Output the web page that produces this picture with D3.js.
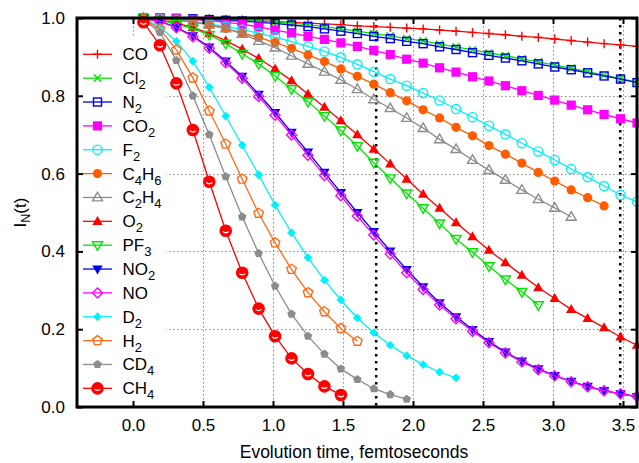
<!DOCTYPE html>
<html>
<head>
<meta charset="utf-8">
<script src="https://cdn.jsdelivr.net/npm/d3@7"></script>
<style>
  body { margin: 0; background: #fff; }
  svg { font-family: "Liberation Sans", Arial, Helvetica, sans-serif; }
</style>
</head>
<body>
<svg id="chart" width="639" height="463"></svg>
<script>
// sample times (fs) of the points
const times = [0.075, 0.1925, 0.31, 0.4275, 0.545, 0.6625, 0.78, 0.8975, 1.015, 1.1325,
  1.25, 1.3675, 1.485, 1.6025, 1.72, 1.8375, 1.955, 2.0725, 2.19, 2.3075,
  2.425, 2.5425, 2.66, 2.7775, 2.895, 3.0125, 3.13, 3.2475, 3.365, 3.4825, 3.6];

const CO   = [1.0, 1.0, 1.0, 0.999, 0.998, 0.997, 0.995, 0.993, 0.991, 0.989, 0.987, 0.985, 0.983, 0.980, 0.978, 0.976, 0.974, 0.972, 0.969, 0.966, 0.963, 0.960, 0.957, 0.953, 0.950, 0.946, 0.942, 0.938, 0.934, 0.931, 0.927];
const Cl2  = [1.0, 1.0, 0.999, 0.998, 0.997, 0.996, 0.995, 0.993, 0.990, 0.987, 0.983, 0.978, 0.972, 0.966, 0.960, 0.954, 0.947, 0.941, 0.933, 0.926, 0.918, 0.910, 0.903, 0.895, 0.887, 0.879, 0.871, 0.862, 0.853, 0.844, 0.835];
const N2   = [1.0, 1.0, 0.999, 0.998, 0.996, 0.994, 0.992, 0.989, 0.986, 0.982, 0.978, 0.972, 0.966, 0.960, 0.953, 0.947, 0.940, 0.934, 0.926, 0.919, 0.911, 0.904, 0.897, 0.890, 0.882, 0.874, 0.867, 0.859, 0.851, 0.843, 0.834];
const CO2  = [1.0, 0.999, 0.998, 0.996, 0.993, 0.989, 0.984, 0.977, 0.969, 0.961, 0.953, 0.945, 0.936, 0.927, 0.917, 0.906, 0.894, 0.884, 0.872, 0.861, 0.849, 0.838, 0.826, 0.813, 0.801, 0.789, 0.776, 0.764, 0.752, 0.741, 0.730];
const F2   = [1.0, 0.998, 0.995, 0.990, 0.985, 0.978, 0.970, 0.961, 0.951, 0.939, 0.927, 0.914, 0.899, 0.881, 0.862, 0.843, 0.826, 0.807, 0.788, 0.766, 0.745, 0.723, 0.701, 0.678, 0.657, 0.635, 0.612, 0.591, 0.568, 0.545, 0.528];
const C4H6 = [1.0, 0.997, 0.994, 0.990, 0.982, 0.973, 0.961, 0.950, 0.937, 0.922, 0.905, 0.888, 0.869, 0.850, 0.830, 0.808, 0.787, 0.764, 0.743, 0.719, 0.697, 0.672, 0.650, 0.627, 0.603, 0.581, 0.558, 0.538, 0.517];
const C2H4 = [1.0, 0.998, 0.995, 0.990, 0.983, 0.973, 0.959, 0.941, 0.924, 0.903, 0.882, 0.862, 0.841, 0.817, 0.791, 0.768, 0.743, 0.717, 0.688, 0.663, 0.635, 0.609, 0.584, 0.558, 0.534, 0.512, 0.489];
const O2   = [1.0, 0.995, 0.987, 0.976, 0.960, 0.942, 0.920, 0.896, 0.869, 0.839, 0.804, 0.771, 0.736, 0.700, 0.663, 0.625, 0.586, 0.547, 0.511, 0.474, 0.438, 0.403, 0.371, 0.339, 0.307, 0.279, 0.251, 0.228, 0.204, 0.180, 0.159];
const PF3  = [1.0, 0.994, 0.985, 0.972, 0.957, 0.934, 0.908, 0.882, 0.851, 0.817, 0.785, 0.748, 0.711, 0.671, 0.628, 0.588, 0.549, 0.511, 0.472, 0.432, 0.398, 0.362, 0.328, 0.296, 0.262];
const NO2  = [0.999, 0.991, 0.976, 0.954, 0.925, 0.889, 0.850, 0.804, 0.757, 0.706, 0.655, 0.603, 0.551, 0.500, 0.451, 0.401, 0.353, 0.309, 0.268, 0.232, 0.199, 0.168, 0.141, 0.118, 0.098, 0.081, 0.066, 0.053, 0.042, 0.034, 0.027];
const NO   = [0.999, 0.991, 0.975, 0.952, 0.922, 0.885, 0.845, 0.798, 0.750, 0.699, 0.647, 0.595, 0.543, 0.491, 0.442, 0.393, 0.345, 0.302, 0.262, 0.227, 0.195, 0.165, 0.139, 0.116, 0.096, 0.080, 0.065, 0.052, 0.042, 0.034, 0.027];
const D2   = [0.998, 0.977, 0.940, 0.889, 0.822, 0.748, 0.673, 0.597, 0.519, 0.448, 0.384, 0.326, 0.275, 0.229, 0.191, 0.159, 0.132, 0.109, 0.090, 0.075];
const H2   = [0.997, 0.972, 0.918, 0.846, 0.761, 0.676, 0.586, 0.498, 0.422, 0.354, 0.294, 0.245, 0.202, 0.169];
const CD4  = [0.996, 0.963, 0.891, 0.800, 0.700, 0.592, 0.489, 0.395, 0.311, 0.239, 0.182, 0.136, 0.098, 0.071, 0.047, 0.032, 0.020];
const CH4  = [0.989, 0.930, 0.832, 0.712, 0.579, 0.453, 0.345, 0.253, 0.182, 0.125, 0.085, 0.053, 0.031];

const xTicks = [0.0, 0.5, 1.0, 1.5, 2.0, 2.5, 3.0, 3.5];
const yTicks = [0.0, 0.2, 0.4, 0.6, 0.8, 1.0];
const markLines = [1.737, 3.48];

// legend order = plot order
const series = [
  { label: "CO",     values: CO,   color: "#ff0000", mark: "plus" },
  { label: "Cl_2",   values: Cl2,  color: "#00e600", mark: "cross" },
  { label: "N_2",    values: N2,   color: "#0000f0", mark: "sqOpen" },
  { label: "CO_2",   values: CO2,  color: "#ff00ff", mark: "sqFill" },
  { label: "F_2",    values: F2,   color: "#00f0ff", mark: "circOpen" },
  { label: "C_4H_6", values: C4H6, color: "#ff5c00", mark: "circFill" },
  { label: "C_2H_4", values: C2H4, color: "#8c8c8c", mark: "triOpen" },
  { label: "O_2",    values: O2,   color: "#ff0000", mark: "triFill" },
  { label: "PF_3",   values: PF3,  color: "#00e600", mark: "tdOpen" },
  { label: "NO_2",   values: NO2,  color: "#0000f0", mark: "tdFill" },
  { label: "NO",     values: NO,   color: "#ff00ff", mark: "diaOpen" },
  { label: "D_2",    values: D2,   color: "#00f0ff", mark: "diaFill" },
  { label: "H_2",    values: H2,   color: "#ff6a1a", mark: "pentOpen" },
  { label: "CD_4",   values: CD4,  color: "#8c8c8c", mark: "pentFill" },
  { label: "CH_4",   values: CH4,  color: "#ff0000", mark: "ch4" },
];

const width = 639, height = 463,
  margin = { top: 18, right: 2, bottom: 56, left: 77 };

const svg = d3.select("#chart");

// SCALES
const xScale = d3.scaleLinear().domain([-0.4, 3.6]).range([margin.left, width - margin.right]);
const yScale = d3.scaleLinear().domain([0, 1]).range([height - margin.bottom, margin.top]);
const x0 = xScale.range()[0], x1 = xScale.range()[1];
const y0 = yScale.range()[0], y1 = yScale.range()[1];

svg.append("clipPath").attr("id", "plot-clip")
  .append("rect").attr("x", x0).attr("y", y1).attr("width", x1 - x0).attr("height", y0 - y1);

// grid
const grid = svg.append("g").attr("stroke", "#8a8a8a").attr("stroke-width", 1).attr("stroke-dasharray", "1.5,2.5");
grid.selectAll(".gx").data(xTicks).join("line")
  .attr("x1", (d) => Math.round(xScale(d)) + 0.5).attr("x2", (d) => Math.round(xScale(d)) + 0.5)
  .attr("y1", y1).attr("y2", y0);
grid.selectAll(".gy").data(yTicks.filter((d) => d > 0 && d < 1)).join("line")
  .attr("y1", (d) => Math.round(yScale(d)) + 0.5).attr("y2", (d) => Math.round(yScale(d)) + 0.5)
  .attr("x1", x0).attr("x2", x1);

// thick dotted markers
svg.append("g").selectAll("line").data(markLines).join("line")
  .attr("x1", (d) => xScale(d)).attr("x2", (d) => xScale(d))
  .attr("y1", y1).attr("y2", y0)
  .attr("stroke", "#000").attr("stroke-width", 2.5).attr("stroke-dasharray", "2.5,4.5");

// opaque legend box
svg.append("rect").attr("x", x0 + 1).attr("y", 37).attr("width", 166 - x0 - 1).attr("height", 405 - 37)
  .attr("fill", "#fff");

function pentagon(r) {
  const p = d3.range(5).map((i) => {
    const a = -Math.PI / 2 + i * 2 * Math.PI / 5;
    return [r * Math.cos(a), r * Math.sin(a)];
  });
  return "M" + p.map((q) => q.join(",")).join("L") + "Z";
}

function drawMark(g, type, color) {
  const open = (sel) => sel.attr("fill", "none").attr("stroke", color).attr("stroke-width", 1.4);
  const fill = (sel) => sel.attr("fill", color).attr("stroke", "none");
  switch (type) {
    case "plus": open(g.append("path").attr("d", "M-4.5,0H4.5M0,-4.5V4.5")); break;
    case "cross": open(g.append("path").attr("d", "M-3.6,-3.6L3.6,3.6M-3.6,3.6L3.6,-3.6")); break;
    case "sqOpen": open(g.append("rect").attr("x", -4).attr("y", -4).attr("width", 8).attr("height", 8)); break;
    case "sqFill": fill(g.append("rect").attr("x", -4.6).attr("y", -4.6).attr("width", 9.2).attr("height", 9.2)); break;
    case "circOpen": open(g.append("circle").attr("r", 4.6)); break;
    case "circFill": fill(g.append("circle").attr("r", 4.6)); break;
    case "triOpen": open(g.append("path").attr("d", "M0,-5.2L5,3.4L-5,3.4Z")); break;
    case "triFill": fill(g.append("path").attr("d", "M0,-5.4L5.2,3.6L-5.2,3.6Z")); break;
    case "tdOpen": open(g.append("path").attr("d", "M0,5.2L5,-3.4L-5,-3.4Z")); break;
    case "tdFill": fill(g.append("path").attr("d", "M0,5.4L5.2,-3.6L-5.2,-3.6Z")); break;
    case "diaOpen": open(g.append("path").attr("d", "M0,-5L5,0L0,5L-5,0Z")); break;
    case "diaFill": fill(g.append("path").attr("d", "M0,-4.4L4.4,0L0,4.4L-4.4,0Z")); break;
    case "pentOpen": open(g.append("path").attr("d", pentagon(5))); break;
    case "pentFill": fill(g.append("path").attr("d", pentagon(4.5))); break;
    case "ch4":
      fill(g.append("circle").attr("r", 6.3));
      g.append("path").attr("d", "M-3,0.8Q0,3.2 3,0.8").attr("fill", "none")
        .attr("stroke", "#fff").attr("stroke-width", 1.2);
      break;
  }
}

// DATA
const line = d3.line().x((d) => xScale(d[0])).y((d) => yScale(d[1]));
series.forEach((s) => {
  const pts = s.values.map((v, i) => [times[i], v]);
  const g = svg.append("g");
  g.append("path").datum(pts).attr("d", line)
    .attr("fill", "none").attr("stroke", s.color).attr("stroke-width", 1.3)
    .attr("clip-path", "url(#plot-clip)");
  g.selectAll(".pt").data(pts).join("g").attr("class", "pt")
    .attr("transform", (d) => `translate(${xScale(d[0])},${yScale(d[1])})`)
    .each(function () { drawMark(d3.select(this), s.mark, s.color); });
});

// frame
svg.append("rect").attr("x", x0).attr("y", y1).attr("width", x1 - x0).attr("height", y0 - y1)
  .attr("fill", "none").attr("stroke", "#000").attr("stroke-width", 3);

// AXES
function styleAxis(g) {
  g.select(".domain").remove();
  g.selectAll(".tick line").attr("stroke", "#000").attr("stroke-width", 2);
  g.selectAll(".tick text").attr("fill", "#000").style("font-size", "17px")
    .style("font-family", '"Liberation Sans", Arial, Helvetica, sans-serif');
}
svg.append("g").attr("transform", `translate(0,${y0})`)
  .call(d3.axisBottom(xScale).tickValues(xTicks).tickSize(-6).tickPadding(12).tickFormat(d3.format(".1f")))
  .call(styleAxis);
svg.append("g").attr("transform", `translate(0,${y1})`)
  .call(d3.axisTop(xScale).tickValues(xTicks).tickSize(-6).tickFormat(""))
  .call(styleAxis);
svg.append("g").attr("transform", `translate(${x0},0)`)
  .call(d3.axisLeft(yScale).tickValues(yTicks).tickSize(-6).tickPadding(12).tickFormat(d3.format(".1f")))
  .call(styleAxis);
svg.append("g").attr("transform", `translate(${x1},0)`)
  .call(d3.axisRight(yScale).tickValues(yTicks).tickSize(-6).tickFormat(""))
  .call(styleAxis);

// text with "_" subscripts
function richText(t, label, subSize, subShift) {
  const parts = label.split(/(_.)/).filter((p) => p.length);
  let shifted = false;
  parts.forEach((p) => {
    if (p[0] === "_") {
      t.append("tspan").attr("dy", shifted ? 0 : subShift).style("font-size", subSize + "px").text(p.slice(1));
      shifted = true;
    } else {
      t.append("tspan").attr("dy", shifted ? -subShift : 0).text(p);
      shifted = false;
    }
  });
}

// axis labels
svg.append("text").attr("x", 354).attr("y", 458).attr("text-anchor", "middle")
  .style("font-size", "17.5px").text("Evolution time, femtoseconds");
const yl = svg.append("text").attr("transform", `translate(26,${(y0 + y1) / 2}) rotate(-90)`)
  .attr("text-anchor", "middle").style("font-size", "17px");
richText(yl, "I_N(t)", 12.5, 4);

// LEGEND
const legend = svg.append("g");
series.forEach((s, i) => {
  const ry = 54.3 + i * 23.86;
  const g = legend.append("g").attr("transform", `translate(0,${ry})`);
  g.append("line").attr("x1", 83).attr("x2", 112).attr("stroke", s.color).attr("stroke-width", 1.3);
  drawMark(g.append("g").attr("transform", "translate(97.5,0)"), s.mark, s.color);
  const t = g.append("text").attr("x", 122.5).attr("y", 6).style("font-size", "17px");
  richText(t, s.label, 13, 5);
});
</script>
</body>
</html>
